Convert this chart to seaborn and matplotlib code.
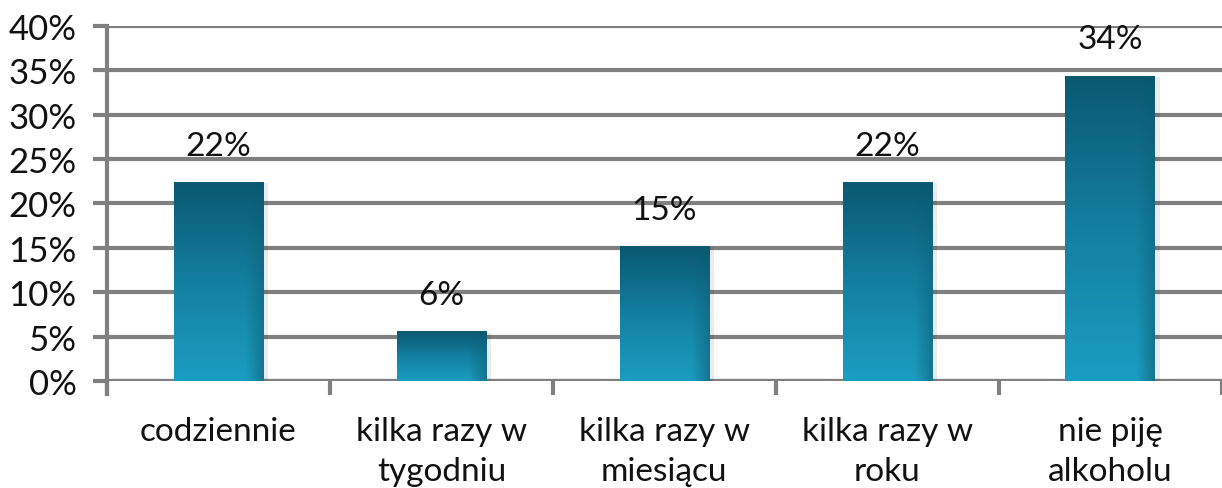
import numpy as np
import pandas as pd
import matplotlib
matplotlib.use("Agg")
import matplotlib.pyplot as plt
import seaborn as sns
from matplotlib.colors import LinearSegmentedColormap

categories = ["codziennie", "kilka razy w\ntygodniu", "kilka razy w\nmiesiącu",
              "kilka razy w\nroku", "nie piję\nalkoholu"]
values = [22.4, 5.6, 15.2, 22.4, 34.4]
labels = ["22%", "6%", "15%", "22%", "34%"]
yticks = [0, 5, 10, 15, 20, 25, 30, 35, 40]

sns.set_theme(style="white")
plt.rcParams['font.family'] = ['Lato', 'DejaVu Sans']

fig = plt.figure(figsize=(12.22, 4.89), dpi=100)
ax = fig.add_axes([0.0876, 0.219, 0.912, 0.726])

df = pd.DataFrame({"cat": categories, "val": values})
sns.barplot(data=df, x="cat", y="val", ax=ax, width=0.4, color="#1a8fb0",
            edgecolor="none", zorder=3)

ax.set_ylim(0, 40)
ax.set_xlim(-0.5, len(categories) - 0.5)
ax.set_yticks(yticks)
ax.set_yticklabels([f"{v}%" for v in yticks], fontsize=25, color="#111111")
ax.yaxis.grid(True, color="#808080", linewidth=3, zorder=0)
ax.set_axisbelow(True)
ax.set_xlabel("")
ax.set_ylabel("")

for s in ["top", "right", "bottom"]:
    ax.spines[s].set_visible(False)
ax.spines["left"].set_color("#808080")
ax.spines["left"].set_linewidth(3)
ax.spines["left"].set_bounds(-1.5, 40)
ax.axhline(0, color="#808080", linewidth=3, zorder=2)

ax.tick_params(axis="y", which="major", length=10, width=3, color="#808080",
               direction="out", pad=12, left=True)
ax.set_xticks(range(len(categories)))
ax.set_xticklabels(categories, fontsize=24, color="#111111")
for t in ax.get_xticklabels():
    t.set_linespacing(1.42)
ax.tick_params(axis="x", which="major", length=0, pad=25)
ax.set_xticks(np.arange(-0.5, len(categories), 1.0), minor=True)
ax.tick_params(axis="x", which="minor", length=10, width=3, color="#808080",
               direction="out", bottom=True)

# gradient fill on bars
cmap = LinearSegmentedColormap.from_list("g", ["#1b9dc2", "#137fa0", "#0a5870"])
grad = np.linspace(0, 1, 256).reshape(-1, 1)
hshade = np.linspace(0, 1, 64)
img = np.zeros((256, 64, 4))
for i, g in enumerate(grad[:, 0]):
    rgba = np.array(cmap(g))
    row = np.tile(rgba, (64, 1))
    dark = np.clip((hshade - 0.8) / 0.2, 0, 1) * 0.25 * (1 - g)
    row[:, :3] = row[:, :3] * (1 - dark[:, None])
    img[i] = row

for p, lab in zip(ax.patches, labels):
    x0, y0 = p.get_x(), p.get_y()
    w, h = p.get_width(), p.get_height()
    p.set_facecolor("none")
    ax.add_patch(plt.Rectangle((x0 + 0.01, y0), w + 0.012, h - 0.15,
                               facecolor="#000000", alpha=0.08, zorder=2.5,
                               edgecolor="none"))
    im = ax.imshow(img, extent=[x0, x0 + w, y0, y0 + h], origin="lower",
                   aspect="auto", zorder=3)
    im.set_clip_path(p)
    ax.text(x0 + w / 2, y0 + h + 2.4, lab, ha="center", va="bottom",
            fontsize=24, color="#111111", zorder=4)

ax.set_xlim(-0.5, len(categories) - 0.5)
ax.set_ylim(0, 40)

fig.savefig("out.png", dpi=100)
